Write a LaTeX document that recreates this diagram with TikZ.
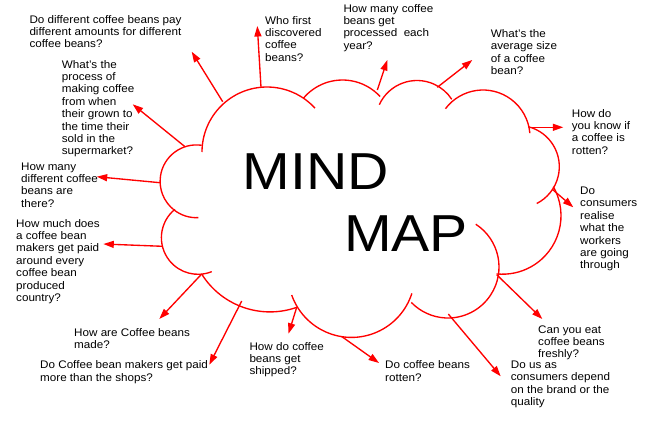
\documentclass[tikz,border=0pt]{standalone}
\usepackage{fontspec}
\newfontfamily\labelfont[FakeStretch=1.06]{Liberation Sans}
\newfontfamily\titlefont[FakeStretch=1.1]{Liberation Sans}
\usepackage{tikz}
\usetikzlibrary{arrows.meta, calc}

\begin{document}
\begin{tikzpicture}[x=1pt,y=-1pt,>={Triangle[length=10.5pt,width=7pt]},
    cloudarc/.style={red, line width=1.35pt},
    spoke/.style={red, line width=1.35pt, ->},
    lbl/.style={anchor=north west, inner sep=0pt, align=left,
      font=\labelfont\fontsize{11}{12.4}\selectfont},
    big/.style={anchor=base, inner sep=0pt,
      font=\titlefont\fontsize{52}{52}\selectfont}]
      \useasboundingbox (0,0) rectangle (668,426);

      % cloud
      \draw[cloudarc] (267,152) ++(180:65) arc[start angle=180, end angle=317.5, radius=65];
      \draw[cloudarc] (342.5,131) ++(219.8:51) arc[start angle=219.8, end angle=317.4, radius=51];
      \draw[cloudarc] (417,122) ++(204.7:41.5) arc[start angle=204.7, end angle=326.9, radius=41.5];
      \draw[cloudarc] (483,137) ++(217:47) arc[start angle=217, end angle=355.3, radius=47];
      \draw[cloudarc] (518,166.7) ++(284.4:41.3) arc[start angle=284.4, end angle=423, radius=41.3];
      \draw[cloudarc] (502.5,215.7) ++(330.3:58.5) arc[start angle=330.3, end angle=455.7, radius=58.5];
      \draw[cloudarc] (448,267) ++(303:51) arc[start angle=303, end angle=496, radius=51];
      \draw[cloudarc] (351.5,274) ++(17.8:63.4) arc[start angle=17.8, end angle=160.6, radius=63.4];
      \draw[cloudarc] (270,231.3) ++(70.6:80.6) arc[start angle=70.6, end angle=148, radius=80.6];
      \draw[cloudarc] (198,237.7) ++(231:36.6) arc[start angle=231, end angle=68, radius=36.6];
      \draw[cloudarc] (196.5,181.3) ++(278.2:36.4) arc[start angle=278.2, end angle=87, radius=36.4];

      \node[big] (title_mind) at (316,189.3) {MIND};
      \node[big] (title_map) at (406,251.7) {MAP};

      % questions
      \node[lbl] (q_pay) at (29.3,15) {Do different coffee beans pay\\different amounts for different\\coffee beans?};
      \node[lbl] (q_process) at (61.7,60) {What’s the\\process of\\making coffee\\from when\\their grown to\\the time their\\sold in the\\supermarket?};
      \node[lbl] (q_who) at (265,16) {Who first\\discovered\\coffee\\beans?};
      \node[lbl] (q_many) at (21,162.3) {How many\\different coffee\\beans are\\there?};
      \node[lbl] (q_processed) at (343.3,4) {How many coffee\\beans get\\processed~ each\\year?};
      \node[lbl] (q_size) at (490.7,29.3) {What’s the\\average size\\of a coffee\\bean?};
      \node[lbl] (q_know) at (571.7,109) {How do\\you know if\\a coffee is\\rotten?};
      \node[lbl] (q_realise) at (580,186.7) {Do\\consumers\\realise\\what the\\workers\\are going\\through};
      \node[lbl] (q_paid) at (16,219) {How much does\\a coffee bean\\makers get paid\\around every\\coffee bean\\produced\\country?};
      \node[lbl] (q_made) at (74,328) {How are Coffee beans\\made?};
      \node[lbl] (q_shops) at (40,360.7) {Do Coffee bean makers get paid\\more than the shops?};
      \node[lbl] (q_shipped) at (249.3,342) {How do coffee\\beans get\\shipped?};
      \node[lbl] (q_eat) at (538,325.3) {Can you eat\\coffee beans\\freshly?};
      \node[lbl] (q_rotten) at (385,360.7) {Do coffee beans\\rotten?};
      \node[lbl] (q_brand) at (510.7,360.7) {Do us as\\consumers depend\\on the brand or the\\quality};

      % spoke ends
      \coordinate (pay_base) at (222.7,101.7);   \coordinate (pay_tip) at (191.7,51.7);
      \coordinate (who_base) at (261,87.3);      \coordinate (who_tip) at (257.3,26);
      \coordinate (process_base) at (185,146.7); \coordinate (process_tip) at (132.7,104.3);
      \coordinate (many_base) at (160,182.7);    \coordinate (many_tip) at (96.7,176.7);
      \coordinate (processed_base) at (377.3,90); \coordinate (processed_tip) at (387.3,60);
      \coordinate (size_base) at (437.3,87.3);   \coordinate (size_tip) at (472.3,60);
      \coordinate (know_base) at (530.7,127.3);  \coordinate (know_tip) at (563.3,127.3);
      \coordinate (realise_base) at (552.3,189.3); \coordinate (realise_tip) at (573.3,207.3);
      \coordinate (paid_base) at (162.7,246.3);  \coordinate (paid_tip) at (103.3,244);
      \coordinate (made_base) at (201.7,274);    \coordinate (made_tip) at (159.3,319);
      \coordinate (shops_base) at (241.7,301);   \coordinate (shops_tip) at (209.3,364.7);
      \coordinate (shipped_base) at (296.7,307.3); \coordinate (shipped_tip) at (288.5,333.7);
      \coordinate (eat_base) at (496.7,274.7);   \coordinate (eat_tip) at (542.3,319);
      \coordinate (rotten_base) at (341.7,336.5); \coordinate (rotten_tip) at (379,363);
      \coordinate (brand_base) at (448.3,314);   \coordinate (brand_tip) at (500.7,376.3);

      \draw[spoke] (pay_base) -- (pay_tip);
      \draw[spoke] (who_base) -- (who_tip);
      \draw[spoke] (process_base) -- (process_tip);
      \draw[spoke] (many_base) -- (many_tip);
      \draw[spoke] (processed_base) -- (processed_tip);
      \draw[spoke] (size_base) -- (size_tip);
      \draw[spoke] (know_base) -- (know_tip);
      \draw[spoke] (realise_base) -- (realise_tip);
      \draw[spoke] (paid_base) -- (paid_tip);
      \draw[spoke] (made_base) -- (made_tip);
      \draw[spoke] (shops_base) -- (shops_tip);
      \draw[spoke] (shipped_base) -- (shipped_tip);
      \draw[spoke] (eat_base) -- (eat_tip);
      \draw[spoke] (rotten_base) -- (rotten_tip);
      \draw[spoke] (brand_base) -- (brand_tip);
  \end{tikzpicture}
\end{document}
